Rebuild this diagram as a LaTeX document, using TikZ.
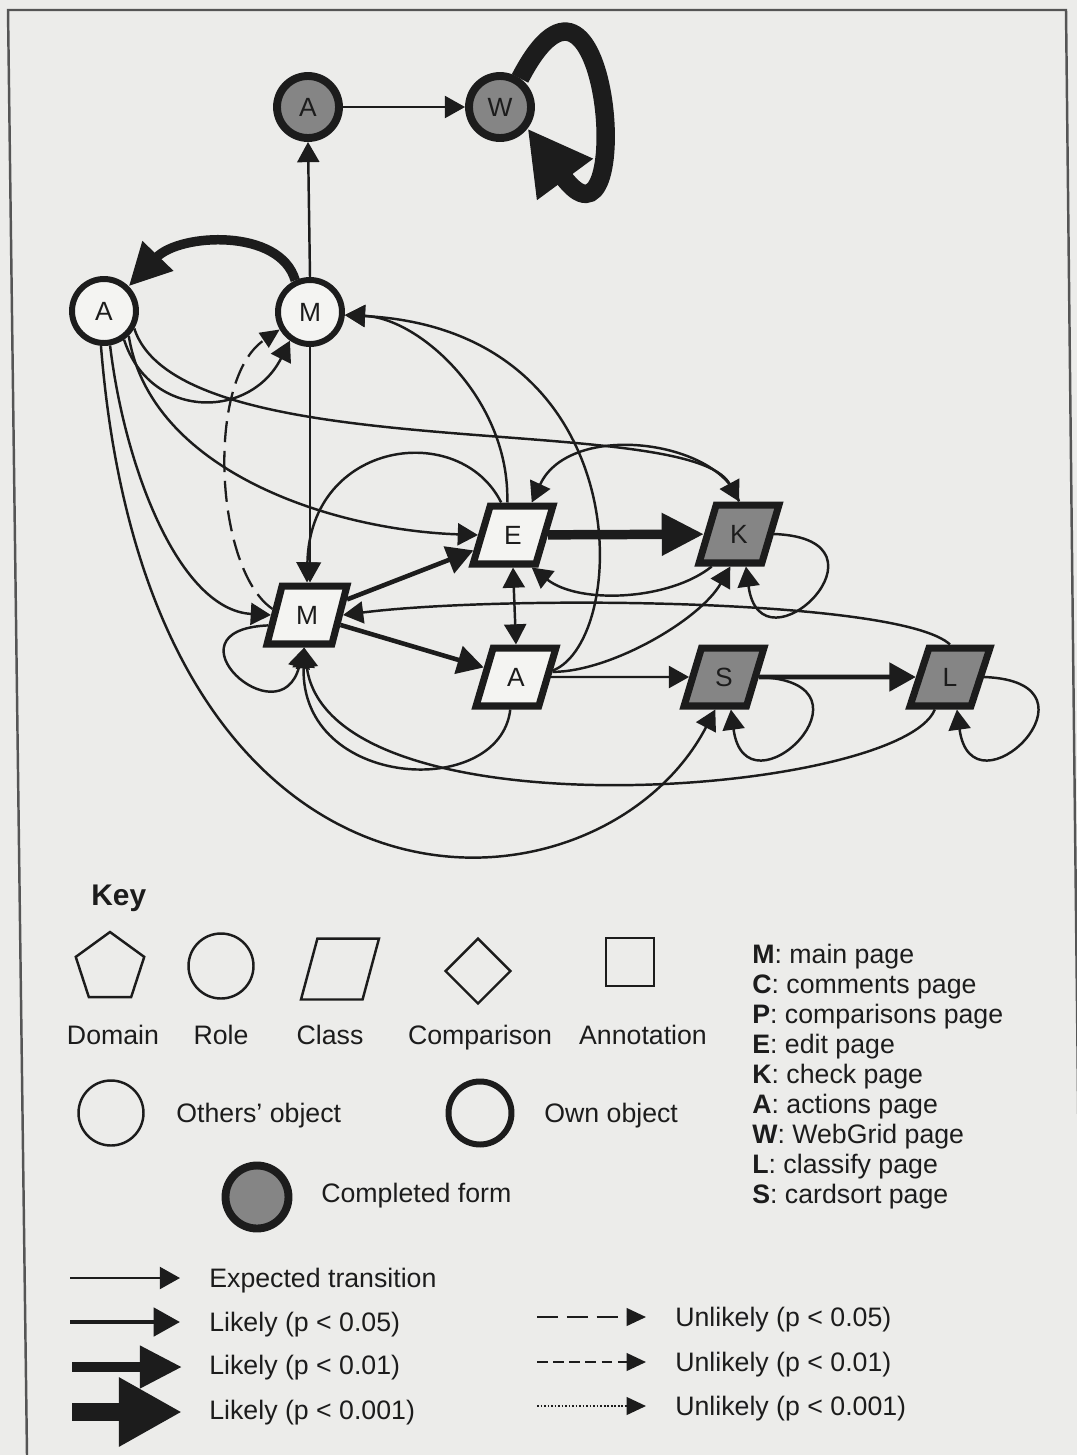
\documentclass[tikz,border=0pt]{standalone}
\usepackage{fontspec}
\setmainfont{Liberation Sans}
\usetikzlibrary{positioning, arrows.meta, shapes.geometric}

\definecolor{paper}{RGB}{236,236,234}
\definecolor{ink}{RGB}{28,28,28}
\definecolor{formgrey}{RGB}{133,133,133}

\begin{document}
\begin{tikzpicture}[
        x=0.02cm, y=-0.02cm,
        tipE/.tip={Triangle[length=11.5pt, width=12.5pt]},
        tipA/.tip={Triangle[length=15pt, width=16pt]},
        tipB/.tip={Triangle[length=24pt, width=23pt]},
        tipC/.tip={Triangle[length=36pt, width=37pt]},
        tipU/.tip={Triangle[length=11pt, width=10pt]},
        pagenode/.style={draw=ink, text=ink, inner sep=0pt, fill=white!40!paper, font=\fontsize{15}{18}\selectfont},
        ownpage/.style={pagenode, circle, line width=3.4pt, minimum size=1.28cm},
        donepage/.style={fill=formgrey, line width=4.5pt, minimum size=1.24cm},
        classpage/.style={pagenode, trapezium, trapezium left angle=70, trapezium right angle=110, trapezium stretches=true, minimum width=1.6cm, minimum height=1.16cm, line width=4pt},
        expected/.style={-tipE, draw=ink, line width=1.4pt},
        likelyA/.style={-tipA, draw=ink, line width=2.6pt},
        likelyB/.style={-tipB, draw=ink, line width=5.4pt},
        likelyC/.style={-tipC, draw=ink, line width=10.5pt},
        unlikely/.style={-tipU, draw=ink, line width=1.3pt},
        keytext/.style={text=ink, inner sep=0pt, font=\fontsize{15.2}{18}\selectfont},
        keyshape/.style={draw=ink, line width=1.4pt, inner sep=0pt},
    ]

    % === PAPER AND FRAME ===
    \fill[paper] (0,0) rectangle (1077,1455);
    \useasboundingbox (0,0) rectangle (1077,1455);
    \draw[ink!75, line width=1.4pt] (27,1455) -- (8,10) -- (1066,10) -- (1082,1455);

    % === PAGES ===
    \node[ownpage, donepage] (atop) at (308,107) {A};
    \node[ownpage, donepage] (webgrid) at (500,107) {W};
    \node[ownpage] (aleft) at (104,311) {A};
    \node[ownpage] (mtop) at (310,312) {M};

    \node[classpage] (mclass) at (307,615) {M};
    \node[classpage] (edit) at (513,535) {E};
    \node[classpage, fill=formgrey] (check) at (739,534) {K};
    \node[classpage] (aclass) at (516,677) {A};
    \node[classpage, fill=formgrey] (cardsort) at (724,677) {S};
    \node[classpage, fill=formgrey] (classify) at (950,677) {L};

    % === TRANSITIONS ===
    % top row
    \draw[expected] (atop) -- (webgrid);
    \draw[likelyC] (webgrid.55) .. controls (610,-95) and (637,277) .. (webgrid.-38);
    \draw[expected] (mtop.north) -- (atop.south);
    \draw[likelyB] (mtop.115) .. controls (280,228) and (180,233) .. (aleft.45);

    % out of A (left)
    \draw[expected] (aleft.-55) .. controls (150,420) and (250,420) .. (mtop.-125);
    \draw[expected] (aleft.-30) .. controls (180,470) and (690,410) .. (check.north);
    \draw[expected] (aleft.-45) .. controls (150,470) and (330,530) .. (edit.west);
    \draw[expected] (aleft.-80) .. controls (125,470) and (180,610) .. (mclass.west);
    \draw[expected] (aleft.-95) .. controls (150,960) and (600,930) .. (cardsort.-105);

    % M (top) and M (class)
    \draw[expected] (mtop.south) -- (mtop.south |- mclass.north);
    \draw[unlikely, dash pattern=on 12pt off 5pt] (mclass.170) .. controls (215,570) and (205,380) .. (mtop.-150);
    \draw[expected] (mclass.-165) .. controls (160,630) and (280,740) .. (mclass.-95);

    % back to M (top)
    \draw[expected] (edit.100) .. controls (510,400) and (420,318) .. (mtop.-5);
    \draw[expected] (aclass.10) .. controls (630,640) and (640,330) .. (mtop.-5);

    % E, K and A
    \draw[expected] (edit.110) .. controls (460,420) and (310,440) .. (mclass.north);
    \draw[expected] (check.north) .. controls (720,440) and (570,420) .. (edit.60);
    \draw[likelyB] (edit) -- (check);
    \draw[likelyA] (mclass) -- (edit);
    \draw[likelyA] (mclass) -- (aclass);
    \draw[expected, tipE-tipE] (edit.south) -- (aclass.north);
    \draw[expected] (check.-130) .. controls (670,600) and (580,605) .. (edit.-60);

    % A (class), S and L
    \draw[expected] (aclass) -- (cardsort);
    \draw[likelyA] (cardsort) -- (classify);
    \draw[expected] (aclass.8) .. controls (610,672) and (700,620) .. (check.-105);
    \draw[expected] (aclass.-100) .. controls (500,800) and (300,790) .. (mclass.-95);
    \draw[expected] (classify.-115) .. controls (900,795) and (330,840) .. (mclass.-95);
    \draw[expected] (classify.north) .. controls (900,598) and (500,595) .. (mclass.east);

    % self loops
    \draw[expected] (check.east) .. controls +(130,5) and +(15,112) .. (check.-78);
    \draw[expected] (cardsort.east) .. controls +(130,5) and +(15,112) .. (cardsort.-78);
    \draw[expected] (classify.east) .. controls +(130,5) and +(15,112) .. (classify.-78);

    % === KEY ===
    \node[text=ink, inner sep=0pt, anchor=base west, font=\fontsize{17}{20}\selectfont\bfseries] (keytitle) at (91,905) {Key};

    \node[keyshape, regular polygon, regular polygon sides=5, minimum size=1.44cm] (kdomain) at (110,968) {};
    \node[keyshape, circle, minimum size=1.3cm] (krole) at (221,966) {};
    \node[keyshape, inner sep=0.5pt, trapezium, trapezium left angle=70, trapezium right angle=110, trapezium stretches=true, minimum width=1.56cm, minimum height=1.22cm] (kclass) at (340,969) {};
    \node[keyshape, diamond, aspect=1, minimum width=1.32cm, minimum height=1.32cm] (kcomp) at (478,971) {};
    \node[keyshape, rectangle, minimum size=0.96cm] (kannot) at (630,962) {};

    \node[keytext, anchor=base] (ldomain) at (113,1044) {Domain};
    \node[keytext, anchor=base] (lrole) at (221,1044) {Role};
    \node[keytext, anchor=base] (lclass) at (330,1044) {Class};
    \node[keytext, anchor=base] (lcomp) at (480,1044) {Comparison};
    \node[keytext, anchor=base] (lannot) at (643,1044) {Annotation};

    \node[keyshape, circle, minimum size=1.3cm] (kothers) at (111,1113) {};
    \node[keytext, anchor=base west] (lothers) at (176,1122) {Others' object};
    \node[keyshape, circle, line width=3.4pt, minimum size=1.26cm] (kown) at (480,1113) {};
    \node[keytext, anchor=base west] (lown) at (544,1122) {Own object};
    \node[keyshape, circle, line width=4.5pt, fill=formgrey, minimum size=1.26cm] (kdone) at (257,1197) {};
    \node[keytext, anchor=base west] (ldone) at (321,1202) {Completed form};

    % transition key
    \node[keytext, anchor=base west] (lexp) at (209,1287) {Expected transition};
    \node[keytext, anchor=base west] (lp05) at (209,1331) {Likely (p < 0.05)};
    \node[keytext, anchor=base west] (lp01) at (209,1374) {Likely (p < 0.01)};
    \node[keytext, anchor=base west] (lp001) at (209,1419) {Likely (p < 0.001)};
    \node[keytext, anchor=base west] (lu05) at (675,1326) {Unlikely (p < 0.05)};
    \node[keytext, anchor=base west] (lu01) at (675,1371) {Unlikely (p < 0.01)};
    \node[keytext, anchor=base west] (lu001) at (675,1415) {Unlikely (p < 0.001)};

    \coordinate (exp-a) at (70,1278);   \coordinate (exp-b) at (180,1278);
    \coordinate (p05-a) at (70,1322);   \coordinate (p05-b) at (180,1322);
    \coordinate (p01-a) at (72,1367);   \coordinate (p01-b) at (182,1367);
    \coordinate (p001-a) at (72,1412);  \coordinate (p001-b) at (182,1412);
    \coordinate (u05-a) at (537,1317);  \coordinate (u05-b) at (646,1317);
    \coordinate (u01-a) at (537,1362);  \coordinate (u01-b) at (646,1362);
    \coordinate (u001-a) at (537,1406); \coordinate (u001-b) at (646,1406);

    \draw[expected] (exp-a) -- (exp-b);
    \draw[likelyA] (p05-a) -- (p05-b);
    \draw[likelyB] (p01-a) -- (p01-b);
    \draw[likelyC] (p001-a) -- (p001-b);
    \draw[unlikely, dash pattern=on 12pt off 5pt] (u05-a) -- (u05-b);
    \draw[unlikely, dash pattern=on 6pt off 3.2pt] (u01-a) -- (u01-b);
    \draw[unlikely, dash pattern=on 1pt off 1pt] (u001-a) -- (u001-b);

    % page names
    \node[keytext, anchor=base west] (nm) at (752,963) {\textbf{M}: main page};
    \node[keytext, anchor=base west] (nc) at (752,993) {\textbf{C}: comments page};
    \node[keytext, anchor=base west] (np) at (752,1023) {\textbf{P}: comparisons page};
    \node[keytext, anchor=base west] (ne) at (752,1053) {\textbf{E}: edit page};
    \node[keytext, anchor=base west] (nk) at (752,1083) {\textbf{K}: check page};
    \node[keytext, anchor=base west] (na) at (752,1113) {\textbf{A}: actions page};
    \node[keytext, anchor=base west] (nw) at (752,1143) {\textbf{W}: WebGrid page};
    \node[keytext, anchor=base west] (nl) at (752,1173) {\textbf{L}: classify page};
    \node[keytext, anchor=base west] (ns) at (752,1203) {\textbf{S}: cardsort page};

\end{tikzpicture}
\end{document}
